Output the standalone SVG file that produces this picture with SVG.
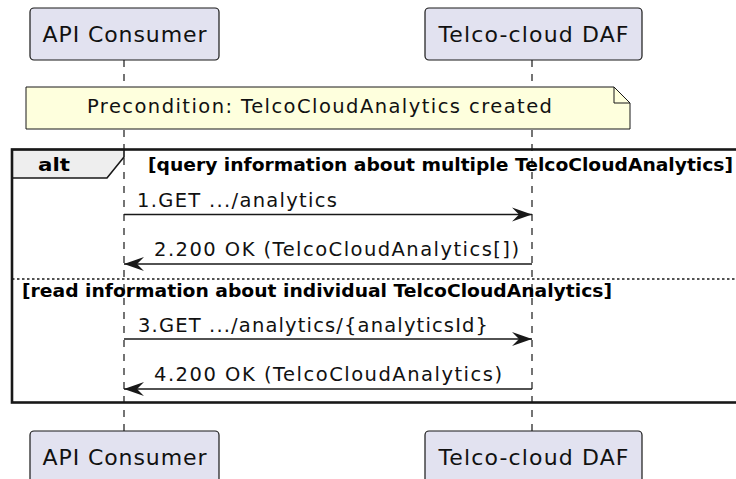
<svg xmlns="http://www.w3.org/2000/svg" width="736" height="479" viewBox="0 0 736 479">
<style>
.part{fill:#E2E2F0;stroke:#181818;stroke-width:1.2}
.ptxt{font-family:"DejaVu Sans",sans-serif;font-size:22px;fill:#111}
.life{stroke:#181818;stroke-width:1.2;stroke-dasharray:7,7;fill:none}
.msg{stroke:#181818;stroke-width:1.6;fill:none}
.mtxt{font-family:"DejaVu Sans",sans-serif;font-size:19.5px;fill:#111}
.ctxt{font-family:"DejaVu Sans",sans-serif;font-size:18px;font-weight:bold;fill:#000}
.frame{fill:none;stroke:#181818;stroke-width:2.6}
</style>
<defs>
<marker id="ah" markerWidth="22" markerHeight="16" refX="20" refY="8" orient="auto-start-reverse" markerUnits="userSpaceOnUse">
<path d="M0,1 L20,8 L0,15 L7,8 Z" fill="#181818"/>
</marker>
</defs>
<g id="lifelines">
<line class="life" x1="124" y1="60" x2="124" y2="431"/>
<line class="life" x1="532" y1="60" x2="532" y2="431"/>
</g>
<g id="participant-consumer-top">
<rect class="part" x="30" y="8" width="189" height="52" rx="4"/>
<text class="ptxt" x="124.5" y="42" text-anchor="middle" textLength="164" lengthAdjust="spacing">API Consumer</text>
</g>
<g id="participant-daf-top">
<rect class="part" x="425" y="8" width="217" height="52" rx="4"/>
<text class="ptxt" x="533.5" y="42" text-anchor="middle" textLength="190" lengthAdjust="spacing">Telco-cloud DAF</text>
</g>
<g id="note">
<path d="M26,87 L614,87 L630,103 L630,129 L26,129 Z" fill="#FEFFDD" stroke="#181818" stroke-width="1"/>
<path d="M614,87 L614,103 L630,103" fill="none" stroke="#181818" stroke-width="1"/>
<text class="mtxt" x="87" y="113" textLength="465" lengthAdjust="spacing">Precondition: TelcoCloudAnalytics created</text>
</g>
<g id="alt-frame">
<path d="M12,149.5 L124,149.5 L124,157 L107,178 L12,178 Z" fill="#EEEEEE" stroke="#181818" stroke-width="1.6"/>
<rect class="frame" x="12" y="149.5" width="740" height="253"/>
<text class="ctxt" x="54" y="171" text-anchor="middle" textLength="32" lengthAdjust="spacingAndGlyphs">alt</text>
<text class="ctxt" x="148" y="171" textLength="585" lengthAdjust="spacingAndGlyphs">[query information about multiple TelcoCloudAnalytics]</text>
<line x1="12" y1="279" x2="736" y2="279" stroke="#181818" stroke-width="1.4" stroke-dasharray="2.5,2.5"/>
<text class="ctxt" x="22" y="297" textLength="590" lengthAdjust="spacingAndGlyphs">[read information about individual TelcoCloudAnalytics]</text>
</g>
<g id="connectors">
<line class="msg" x1="124" y1="214.5" x2="532" y2="214.5" marker-end="url(#ah)"/>
<text class="mtxt" x="137" y="207" textLength="200" lengthAdjust="spacing">1.GET .../analytics</text>
<line class="msg" x1="532" y1="264" x2="124" y2="264" marker-end="url(#ah)"/>
<text class="mtxt" x="154" y="256" textLength="365" lengthAdjust="spacing">2.200 OK (TelcoCloudAnalytics[])</text>
<line class="msg" x1="124" y1="339" x2="532" y2="339" marker-end="url(#ah)"/>
<text class="mtxt" x="138" y="332" textLength="350" lengthAdjust="spacing">3.GET .../analytics/{analyticsId}</text>
<line class="msg" x1="532" y1="389" x2="124" y2="389" marker-end="url(#ah)"/>
<text class="mtxt" x="154" y="381" textLength="348" lengthAdjust="spacing">4.200 OK (TelcoCloudAnalytics)</text>
</g>
<g id="participant-consumer-bottom">
<rect class="part" x="30" y="431" width="189" height="52" rx="4"/>
<text class="ptxt" x="124.5" y="465" text-anchor="middle" textLength="164" lengthAdjust="spacing">API Consumer</text>
</g>
<g id="participant-daf-bottom">
<rect class="part" x="425" y="431" width="217" height="52" rx="4"/>
<text class="ptxt" x="533.5" y="465" text-anchor="middle" textLength="190" lengthAdjust="spacing">Telco-cloud DAF</text>
</g>
</svg>
